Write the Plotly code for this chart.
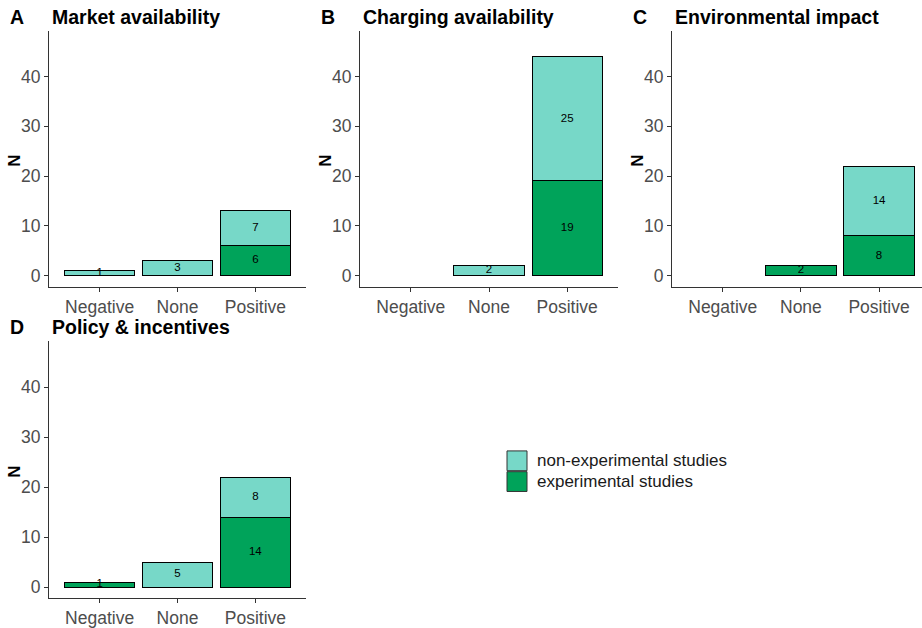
import plotly.graph_objects as go

categories = ["Negative", "None", "Positive"]
panels = ["A", "B", "C", "D"]
titles = ["Market availability", "Charging availability", "Environmental impact", "Policy & incentives"]
experimental = [[0, 0, 6], [0, 0, 19], [0, 2, 8], [1, 0, 14]]
non_experimental = [[1, 3, 7], [0, 2, 25], [0, 0, 14], [0, 5, 8]]
yticks = [0, 10, 20, 30, 40]
legend_labels = ["non-experimental studies", "experimental studies"]

LIGHT = "#77d8c8"
DARK = "#00a35a"
W, H = 922, 628
FONT = "Liberation Sans, Arial, sans-serif"

# panel geometry in pixels: (left, right, top, bottom)
geom = [(49, 306, 31, 290), (360, 618, 31, 290), (672, 922, 31, 290), (49, 306, 345, 605)]
xranges = [[-0.65, 2.65], [-0.65, 2.65], [-0.65, 2.55], [-0.65, 2.65]]

fig = go.Figure()
for i in range(4):
    ax = "" if i == 0 else str(i + 1)
    xa, ya = "x" + ax, "y" + ax
    exp = [v if v else None for v in experimental[i]]
    non = [v if v else None for v in non_experimental[i]]
    fig.add_trace(go.Bar(x=categories, y=exp, marker=dict(color=DARK, line=dict(color="black", width=1)),
                         width=0.9, xaxis=xa, yaxis=ya, showlegend=False, hoverinfo="skip"))
    fig.add_trace(go.Bar(x=categories, y=non, marker=dict(color=LIGHT, line=dict(color="black", width=1)),
                         width=0.9, xaxis=xa, yaxis=ya, showlegend=False, hoverinfo="skip"))
    # labels
    lx, ly, lt = [], [], []
    for j, c in enumerate(categories):
        e, n = experimental[i][j], non_experimental[i][j]
        if e:
            lx.append(c); ly.append(e / 2); lt.append(str(e))
        if n:
            lx.append(c); ly.append(e + n / 2); lt.append(str(n))
    fig.add_trace(go.Scatter(x=lx, y=ly, text=lt, mode="text", textfont=dict(size=11.5, color="black", family=FONT),
                             xaxis=xa, yaxis=ya, showlegend=False, hoverinfo="skip"))
    l, r, t, b = geom[i]
    axis_common = dict(showline=True, linecolor="#333333", linewidth=1.2, ticks="outside", ticklen=4,
                       tickcolor="#333333", tickwidth=1, showgrid=False, zeroline=False,
                       tickfont=dict(size=17.5, color="#4d4d4d", family=FONT))
    fig.layout["xaxis" + ax] = dict(domain=[l / W, min(r / W, 1)], anchor=ya, type="category",
                                   categoryorder="array", categoryarray=categories,
                                   range=xranges[i], fixedrange=True, **axis_common)
    fig.layout["yaxis" + ax] = dict(domain=[1 - b / H, 1 - t / H], anchor=xa, range=[-2.25, 49.2],
                                   tickvals=yticks, fixedrange=True, **axis_common)
    # y-axis title
    fig.add_annotation(x=(l - 34) / W, y=1 - ((t + b) / 2 + 2) / H, xref="paper", yref="paper", text="<b>N</b>",
                       textangle=-90, showarrow=False, xanchor="center", yanchor="middle",
                       font=dict(size=17, color="black", family=FONT))
    # titles
    fig.add_annotation(x=(l - 41) / W, y=1 - (t - 14) / H, xref="paper", yref="paper", text="<b>" + panels[i] + "</b>",
                       showarrow=False, xanchor="left", yanchor="middle", font=dict(size=19.5, color="black", family=FONT))
    fig.add_annotation(x=(l + 1) / W, y=1 - (t - 14) / H, xref="paper", yref="paper", text="<b>" + titles[i] + "</b>",
                       showarrow=False, xanchor="left", yanchor="middle", font=dict(size=19.5, color="black", family=FONT))

# legend (drawn manually)
for k, (lab, col) in enumerate(zip(legend_labels, [LIGHT, DARK])):
    y0 = 456 + k * 21
    fig.add_shape(type="rect", xref="paper", yref="paper", x0=507 / W, x1=527 / W, y0=1 - (y0 + 20) / H, y1=1 - y0 / H,
                  fillcolor=col, line=dict(color="#333333", width=1))
    fig.add_annotation(x=535 / W, y=1 - (y0 + 10) / H, xref="paper", yref="paper", text=lab, showarrow=False,
                       xanchor="left", yanchor="middle", font=dict(size=17, color="#1a1a1a", family=FONT))

fig.update_layout(autosize=True, margin=dict(l=0, r=0, t=0, b=0), barmode="stack", bargap=0.1,
                  plot_bgcolor="white", paper_bgcolor="white", font=dict(family=FONT))
css_js = ("var s=document.createElement('style');"
          "s.innerHTML='html,body{margin:0;padding:0;overflow:hidden;}';"
          "document.head.appendChild(s);")
fig.write_html("out.html", config={"displayModeBar": False, "responsive": True},
               default_width="100vw", default_height="100vh", post_script=css_js)
